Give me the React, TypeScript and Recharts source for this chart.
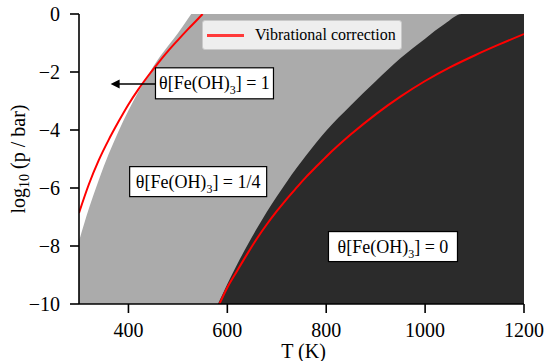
import React from 'react';
import {
  ComposedChart,
  Area,
  Line,
  XAxis,
  YAxis,
  ReferenceDot,
  ReferenceLine,
  Legend,
} from 'recharts';

const SERIF = "'Liberation Serif', 'Times New Roman', Times, serif";
const serifStyle = (size: number) => ({ fontFamily: SERIF, fontSize: size });

// Axis range
const T_MIN = 300;
const T_MAX = 1200;
const P_MIN = -10;
const P_MAX = 0;
const xTicks = [400, 600, 800, 1000, 1200];
const yTicks = [-10, -8, -6, -4, -2, 0];

// Phase boundary θ = 1 | θ = 1/4  (T in K, log10 p in bar)
const fullEdgeT = [300, 320, 340, 360, 380, 400, 420, 440, 460, 480, 500, 520, 527];
const fullEdgeP = [-7.84, -6.71, -5.72, -4.83, -4.04, -3.33, -2.68, -2.1, -1.56, -1.1, -0.66, -0.17, 0];

// Phase boundary θ = 1/4 | θ = 0
const emptyEdgeT = [581, 600, 620, 640, 660, 680, 700, 720, 740, 760, 780, 800, 850, 900, 950, 1000, 1040, 1074, 1200];
const emptyEdgeP = [-10, -9.31, -8.63, -7.99, -7.39, -6.82, -6.29, -5.79, -5.31, -4.86, -4.43, -4.03, -3.15, -2.32, -1.53, -0.85, -0.34, 0, 0];

// Same boundaries with the vibrational free-energy correction
const vibHighT = [300, 320, 340, 360, 380, 400, 420, 440, 460, 480, 500, 520, 540, 550];
const vibHighP = [-6.86, -5.87, -5.04, -4.34, -3.71, -3.12, -2.6, -2.13, -1.69, -1.28, -0.9, -0.53, -0.18, 0];

const vibLowT = [584, 600, 620, 640, 660, 680, 700, 720, 740, 760, 780, 800, 850, 900, 950, 1000, 1050, 1100, 1150, 1200];
const vibLowP = [-10, -9.43, -8.85, -8.28, -7.74, -7.25, -6.8, -6.38, -5.99, -5.61, -5.26, -4.92, -4.15, -3.46, -2.85, -2.31, -1.84, -1.43, -1.05, -0.69];

type Row = {
  T: number;
  quarter?: [number, number];
  full?: [number, number];
  empty?: [number, number];
  vibHigh?: number;
  vibLow?: number;
};

const rowMap = new Map<number, Row>();
const rowAt = (T: number): Row => {
  let r = rowMap.get(T);
  if (!r) {
    r = { T };
    rowMap.set(T, r);
  }
  return r;
};
rowAt(T_MIN).quarter = [P_MIN, P_MAX];
rowAt(T_MAX).quarter = [P_MIN, P_MAX];
fullEdgeT.forEach((T, i) => (rowAt(T).full = [fullEdgeP[i], P_MAX]));
emptyEdgeT.forEach((T, i) => (rowAt(T).empty = [P_MIN, emptyEdgeP[i]]));
vibHighT.forEach((T, i) => (rowAt(T).vibHigh = vibHighP[i]));
vibLowT.forEach((T, i) => (rowAt(T).vibLow = vibLowP[i]));
const rows = Array.from(rowMap.values()).sort((a, b) => a.T - b.T);

const fmtTick = (v: number) => (v < 0 ? '\u2212' + Math.abs(v) : String(v));

const XTick = (props: any) => {
  const { x, y, payload } = props;
  return (
    <text x={x} y={y} dy={14.2} textAnchor="middle" fill="#000" style={serifStyle(20)}>
      {fmtTick(payload.value)}
    </text>
  );
};

const YTick = (props: any) => {
  const { x, y, payload } = props;
  return (
    <text x={x} y={y} dy={6.8} textAnchor="end" fill="#000" style={serifStyle(20)}>
      {fmtTick(payload.value)}
    </text>
  );
};

const Theta = ({ value }: { value: string }) => (
  <>
    θ[Fe(OH)
    <tspan style={{ fontSize: 12 }} dy={5}>3</tspan>
    <tspan dy={-5}>] = {value}</tspan>
  </>
);

const boxShape = (value: string, w: number, h: number) => (props: any) => {
  const { cx, cy } = props;
  return (
    <g>
      <rect x={cx - w / 2} y={cy - h / 2} width={w} height={h} fill="#fff" stroke="#000" strokeWidth={1.2} />
      <text x={cx} y={cy} dy={6} textAnchor="middle" fill="#000" style={serifStyle(18)}>
        <Theta value={value} />
      </text>
    </g>
  );
};

const arrowHead = (props: any) => {
  const { cx, cy } = props;
  return <polygon points={`${cx},${cy} ${cx + 9},${cy - 4.5} ${cx + 9},${cy + 4.5}`} fill="#000" />;
};

const XTitle = (props: any) => {
  const vb = props.viewBox;
  return (
    <text x={vb.x + vb.width / 2 + 2} y={vb.y + 54} textAnchor="middle" fill="#000" style={serifStyle(20)}>
      T (K)
    </text>
  );
};

const YTitle = (props: any) => {
  const vb = props.viewBox;
  const x = vb.x + 10;
  const y = vb.y + vb.height / 2;
  return (
    <text
      x={x}
      y={y}
      dy={6}
      transform={`rotate(-90, ${x}, ${y})`}
      textAnchor="middle"
      fill="#000"
      style={serifStyle(20)}
    >
      log
      <tspan style={{ fontSize: 14 }} dy={4}>10</tspan>
      <tspan dy={-4}> (p / bar)</tspan>
    </text>
  );
};

const LegendBox = (props: any) => {
  const items = (props.payload || []).filter((p: any) => p.type !== 'none');
  return (
    <div
      style={{
        boxSizing: 'border-box',
        width: 200,
        height: 30,
        background: '#eeeeee',
        border: '1px solid #c9c9c9',
        borderRadius: 3,
        fontFamily: SERIF,
        fontSize: 16,
        color: '#000',
        display: 'flex',
        alignItems: 'center',
        paddingLeft: 4,
      }}
    >
      {items.map((it: any) => (
        <div key={it.value} style={{ display: 'flex', alignItems: 'center' }}>
          <span style={{ display: 'inline-block', width: 37, height: 3, background: '#ff3a3a', marginRight: 11 }} />
          <span>{it.value}</span>
        </div>
      ))}
    </div>
  );
};

export default function App() {
  const axisStroke = { stroke: '#000', strokeWidth: 1.6 };
  return (
    <div
      style={{
        position: 'fixed',
        left: 0,
        top: 0,
        width: 545,
        height: 361,
        background: '#fff',
        fontFamily: SERIF,
      }}
    >
      <ComposedChart
        width={545}
        height={361}
        data={rows}
        margin={{ top: 14, right: 21, bottom: 8, left: 9 }}
        style={{ fontFamily: SERIF }}
      >
        <XAxis
          dataKey="T"
          type="number"
          domain={[T_MIN, T_MAX]}
          ticks={xTicks}
          allowDataOverflow
          height={49}
          tickSize={9}
          tickMargin={10}
          tick={<XTick />}
          tickLine={axisStroke}
          axisLine={axisStroke}
          label={<XTitle />}
        />
        <YAxis
          type="number"
          domain={[P_MIN, P_MAX]}
          ticks={yTicks}
          allowDataOverflow
          width={70}
          tickSize={9}
          tickMargin={10}
          tick={<YTick />}
          tickLine={axisStroke}
          axisLine={axisStroke}
          label={<YTitle />}
        />
        <XAxis
          xAxisId="top"
          orientation="top"
          dataKey="T"
          type="number"
          domain={[T_MIN, T_MAX]}
          height={0}
          tick={false}
          tickLine={false}
          axisLine={axisStroke}
        />
        <YAxis
          yAxisId="right"
          orientation="right"
          type="number"
          domain={[P_MIN, P_MAX]}
          width={0}
          tick={false}
          tickLine={false}
          axisLine={axisStroke}
        />

        <Area dataKey="quarter" name="θ = 1/4" fill="#ababab" fillOpacity={1} stroke="none" connectNulls isAnimationActive={false} legendType="none" />
        <Area type="monotone" dataKey="empty" name="θ = 0" fill="#2b2b2b" fillOpacity={1} stroke="none" connectNulls isAnimationActive={false} legendType="none" />
        <Area type="monotone" dataKey="full" name="θ = 1" fill="#ffffff" fillOpacity={1} stroke="none" connectNulls isAnimationActive={false} legendType="none" />

        <Line type="monotone" dataKey="vibHigh" name="Vibrational correction" stroke="#ff0000" strokeWidth={2} dot={false} connectNulls isAnimationActive={false} legendType="line" />
        <Line type="monotone" dataKey="vibLow" name="Vibrational correction (θ = 0)" stroke="#ff0000" strokeWidth={2} dot={false} connectNulls isAnimationActive={false} legendType="none" />

        <ReferenceLine segment={[{ x: 455, y: -2.41 }, { x: 375, y: -2.41 }]} stroke="#000" strokeWidth={1.5} />
        <ReferenceDot x={364} y={-2.41} r={0} shape={arrowHead} />
        <ReferenceDot x={574} y={-2.39} r={0} shape={boxShape('1', 118, 31)} />
        <ReferenceDot x={541} y={-5.78} r={0} shape={boxShape('1/4', 137, 30)} />
        <ReferenceDot x={935} y={-8.02} r={0} shape={boxShape('0', 129, 30)} />

        <Legend
          layout="horizontal"
          verticalAlign="middle"
          align="center"
          wrapperStyle={{ top: 20, left: 202, width: 200, height: 30 }}
          content={<LegendBox />}
        />
      </ComposedChart>
    </div>
  );
}
